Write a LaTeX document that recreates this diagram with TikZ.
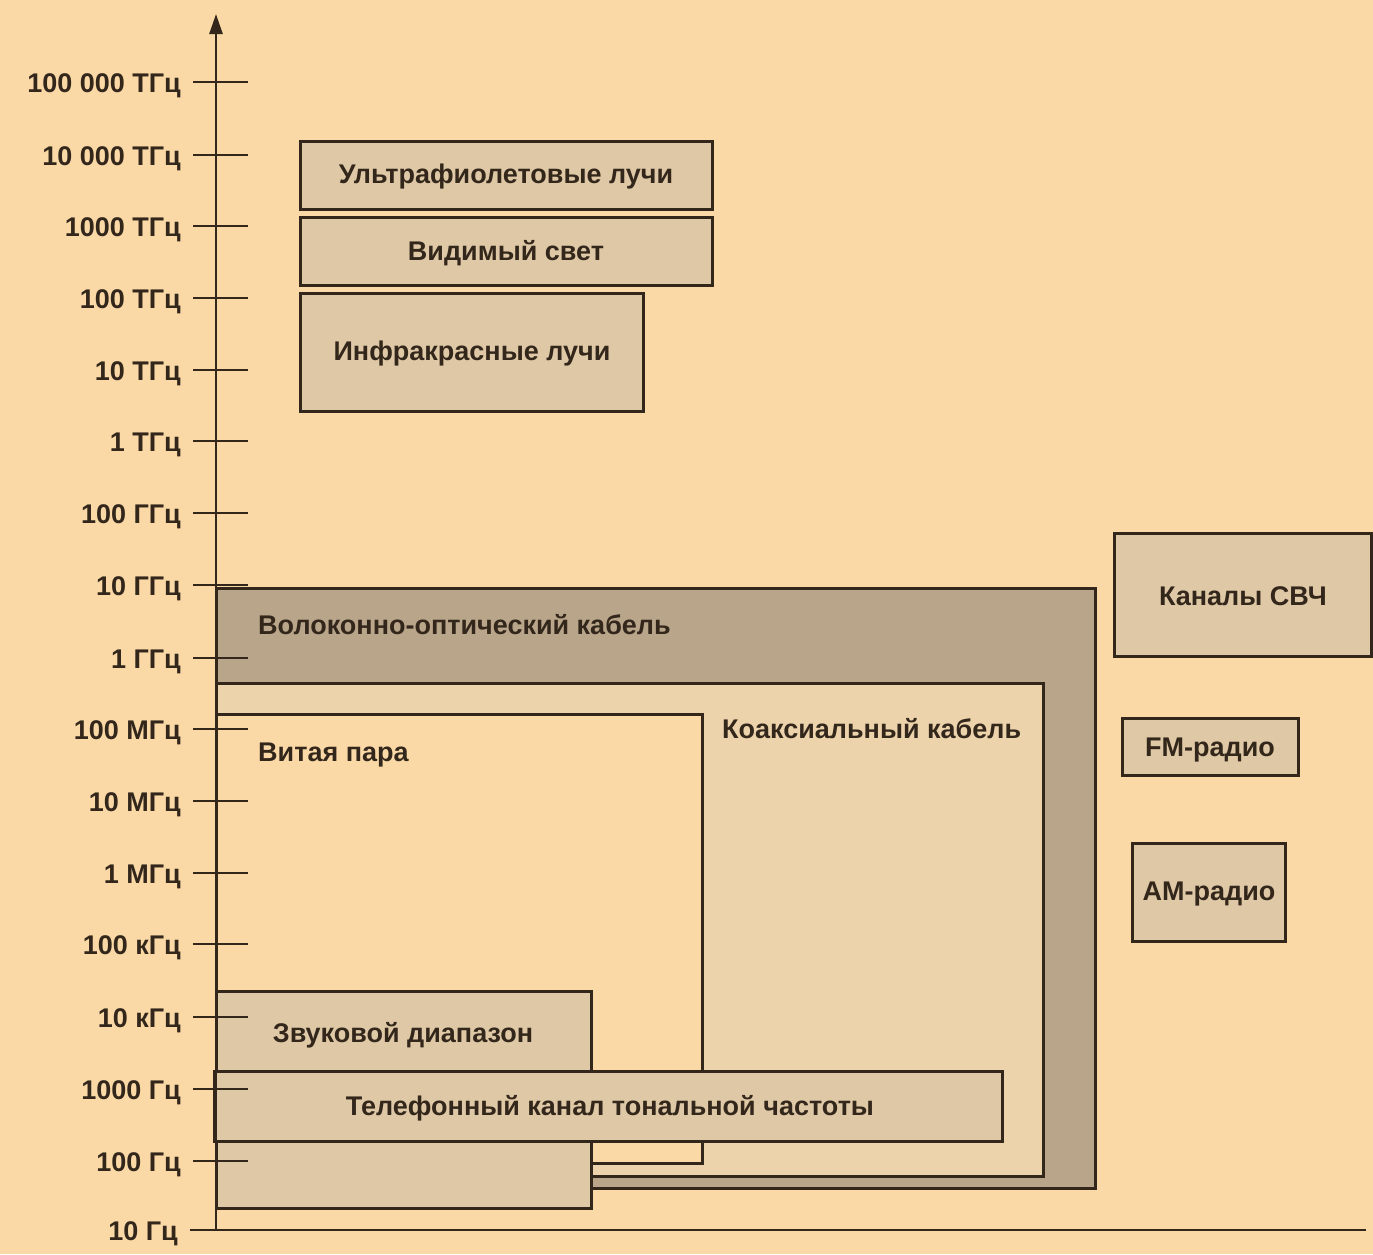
\documentclass[tikz,border=0pt]{standalone}
\usepackage{fontspec}
\setmainfont{Liberation Sans}
\usetikzlibrary{arrows.meta}
\definecolor{bgc}{HTML}{FAD9A6}
\definecolor{lightfill}{HTML}{DFC8A5}
\definecolor{fiberfill}{HTML}{B9A58A}
\definecolor{coaxfill}{HTML}{EDD3AB}
\definecolor{inkc}{HTML}{33271C}
\tikzset{
  box/.style={draw=inkc, line width=3pt, fill=lightfill},
  fiberbox/.style={draw=inkc, line width=3pt, fill=fiberfill},
  coaxbox/.style={draw=inkc, line width=3pt, fill=coaxfill},
  tpbox/.style={draw=inkc, line width=3pt, fill=bgc},
  axisline/.style={draw=inkc, line width=2.6pt},
  tickline/.style={draw=inkc, line width=2.6pt},
  boxtext/.style={text=inkc, inner sep=0pt, font=\fontsize{27}{32}\selectfont\bfseries},
  ticktext/.style={text=inkc, inner sep=0pt, anchor=base east, font=\fontsize{27}{32}\selectfont\bfseries},
}
\begin{document}
\begin{tikzpicture}[x=1pt,y=-1pt]
\fill[bgc] (0,0) rectangle (1373,1254);
\useasboundingbox (0,0) rectangle (1373,1254);

% optical range boxes
\path[box] (300,141) rectangle (712,209);
\node[boxtext, anchor=base] (uvt) at (506,183) {Ультрафиолетовые лучи};
\path[box] (300,217) rectangle (712,285);
\node[boxtext, anchor=base] (vist) at (506,260) {Видимый свет};
\path[box] (300,293) rectangle (643,411);
\node[boxtext, anchor=base] (irt) at (472,360) {Инфракрасные лучи};

% cable boxes
\path[fiberbox] (216,588) rectangle (1095,1188);
\node[boxtext, anchor=base west] (fibt) at (258,634) {Волоконно-оптический кабель};
\path[coaxbox] (216,683) rectangle (1043,1176);
\node[boxtext, anchor=base west] (coaxt) at (722,738) {Коаксиальный кабель};
\path[tpbox] (216,714) rectangle (702,1163);
\node[boxtext, anchor=base west] (tpt) at (258,761) {Витая пара};
\path[box] (216,991) rectangle (591,1208);
\node[boxtext, anchor=base] (audt) at (403,1042) {Звуковой диапазон};
\path[box] (214,1071) rectangle (1002,1141);
\node[boxtext, anchor=base] (telt) at (610,1115) {Телефонный канал тональной частоты};

% radio boxes
\path[box] (1114,533) rectangle (1371,656);
\node[boxtext, anchor=base] (mwt) at (1243,605) {Каналы СВЧ};
\path[box] (1122,718) rectangle (1298,775);
\node[boxtext, anchor=base] (fmt) at (1210,756) {FM-радио};
\path[box] (1132,843) rectangle (1285,941);
\node[boxtext, anchor=base] (amt) at (1209,900) {AM-радио};

% axes
\coordinate (ybot) at (216,1230);
\coordinate (ytop) at (216,14);
\coordinate (xleft) at (190,1230);
\coordinate (xright) at (1366,1230);
\draw[axisline, -{Triangle[length=20pt,width=13pt]}] (ybot) -- (ytop);
\draw[axisline] (xleft) -- (xright);

% ticks and labels
\foreach \yy/\lab/\nm in {
  82/{100 000 ТГц}/a, 155/{10 000 ТГц}/b, 226/{1000 ТГц}/c, 298/{100 ТГц}/d,
  370/{10 ТГц}/e, 441/{1 ТГц}/f, 513/{100 ГГц}/g, 585/{10 ГГц}/h,
  658/{1 ГГц}/i, 729/{100 МГц}/j, 801/{10 МГц}/k, 873/{1 МГц}/l,
  944/{100 кГц}/m, 1017/{10 кГц}/n, 1089/{1000 Гц}/o, 1161/{100 Гц}/p}{
  \coordinate (tl\nm) at (193,\yy);
  \coordinate (tr\nm) at (248,\yy);
  \draw[tickline] (tl\nm) -- (tr\nm);
  \node[ticktext] (lab\nm) at (181,\yy+10) {\lab};
}
\node[ticktext] (labq) at (178,1240) {10 Гц};
\end{tikzpicture}
\end{document}
